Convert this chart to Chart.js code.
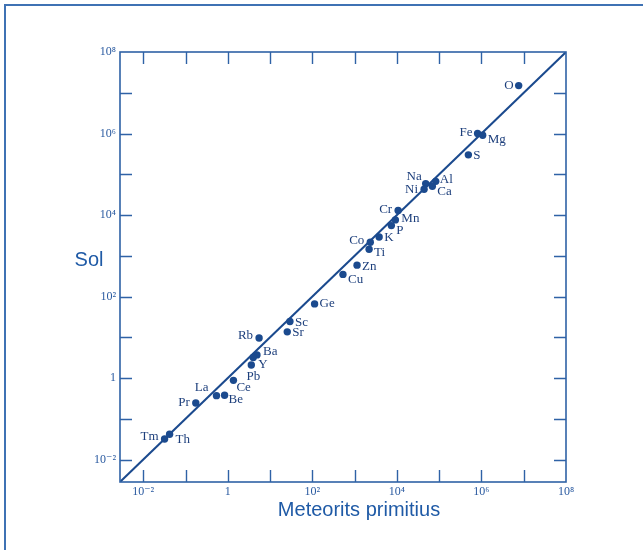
<!DOCTYPE html>
<html>
<head>
<meta charset="utf-8">
<script src="https://cdn.jsdelivr.net/npm/chart.js@4.4.1/dist/chart.umd.min.js"></script>
<style>
  html, body { margin: 0; padding: 0; background: #ffffff; overflow: hidden; }
  #wrap { position: relative; width: 643px; height: 550px; }
  #frame { position: absolute; left: 4px; top: 4px; width: 700px; height: 600px;
           border-left: 2px solid #3f72b4; border-top: 2px solid #3f72b4; box-sizing: border-box; }
  canvas { position: absolute; left: 0; top: 0; }
</style>
</head>
<body>
<div id="wrap">
  <div id="frame"></div>
  <canvas id="c" width="643" height="550"></canvas>
</div>
<script>
// ---- data ----
const elements  = ['O','Fe','Mg','S','Na','Al','Ni','Ca','Cr','Mn','P','K','Co','Ti','Zn','Cu','Ge','Sc','Sr','Rb','Ba','Y','Pb','Ce','Be','La','Pr','Th','Tm'];
const meteorites = [7.6e6, 8.1e5, 1.07e6, 4.9e5, 4.8e4, 8.3e4, 4.4e4, 6.9e4, 1.07e4, 9.2e3, 7.4e3, 3.8e3, 2.35e3, 2.2e3, 1.14e3, 5.3e2, 113, 29.5, 25.5, 5.5, 4.9, 4.0, 3.6, 1.36, 0.84, 0.54, 0.175, 0.042, 0.032];
const sun        = [1.5e7, 1.0e6, 9.1e5, 3.0e5, 5.9e4, 6.7e4, 4.3e4, 5.1e4, 1.29e4, 7.6e3, 5.5e3, 2.9e3, 2.15e3, 1.45e3, 5.9e2, 3.5e2, 66, 24.5, 13.6, 9.6, 3.7, 3.2, 2.1, 0.88, 0.38, 0.37, 0.245, 0.042, 0.032];
const equalityLine = [0.00282, 1e8];           // y = x reference line (ends)
const axisMin = 0.00282, axisMax = 1e8;
const tickValues = [0.01, 1, 100, 1e4, 1e6, 1e8];
const tickLabels = ['10\u207B\u00B2', '1', '10\u00B2', '10\u2074', '10\u2076', '10\u2078'];
const minorTicks = [0.01, 0.1, 1, 10, 100, 1e3, 1e4, 1e5, 1e6, 1e7];
const xTitle = 'Meteorits primitius';
const yTitle = 'Sol';

// label placement: [dx, dy, align]
const labelPlace = [
  [-5,0,'right'],[-5,-1,'right'],[5,4,'left'],[5,1,'left'],[-4,-7,'right'],[4,-2,'left'],[-6,0,'right'],[5,5,'left'],
  [-6,-1,'right'],[6,-1,'left'],[5,5,'left'],[5,1,'left'],[-6,-2,'right'],[5,3,'left'],[5,1,'left'],[5,5,'left'],
  [5,0,'left'],[5,1,'left'],[5,1,'left'],[-6,-2,'right'],[6,-3,'left'],[5,7,'left'],[2,12,'center'],[3,7,'left'],
  [4,4,'left'],[-8,-8,'right'],[-6,0,'right'],[6,5,'left'],[-6,-2,'right']
];

const AXIS_COLOR = '#2f62a6';
const MARK_COLOR = '#1b4a8e';
const TEXT_COLOR = '#1d3f7c';
const TICK_TEXT = '#2a5aa0';
const TITLE_COLOR = '#1f5aa6';

const decor = {
  id: 'decor',
  afterDatasetsDraw(chart) {
    const ctx = chart.ctx;
    const a = chart.chartArea;
    const xs = chart.scales.x, ys = chart.scales.y;
    ctx.save();
    // frame
    ctx.strokeStyle = AXIS_COLOR;
    ctx.lineWidth = 1.6;
    ctx.strokeRect(a.left, a.top, a.right - a.left, a.bottom - a.top);
    // inward ticks
    const L = 12;
    ctx.lineWidth = 1.4;
    ctx.beginPath();
    minorTicks.forEach(v => {
      const px = Math.round(xs.getPixelForValue(v)) + 0.5;
      if (px > a.left + 1 && px < a.right - 1) {
        ctx.moveTo(px, a.bottom); ctx.lineTo(px, a.bottom - L);
        ctx.moveTo(px, a.top); ctx.lineTo(px, a.top + L);
      }
      const py = Math.round(ys.getPixelForValue(v)) + 0.5;
      if (py > a.top + 1 && py < a.bottom - 1) {
        ctx.moveTo(a.left, py); ctx.lineTo(a.left + L, py);
        ctx.moveTo(a.right, py); ctx.lineTo(a.right - L, py);
      }
    });
    ctx.stroke();
    // element labels
    const meta = chart.getDatasetMeta(0);
    ctx.fillStyle = TEXT_COLOR;
    ctx.font = '13px "Liberation Serif", "DejaVu Serif", serif';
    ctx.textBaseline = 'middle';
    meta.data.forEach((pt, i) => {
      const p = labelPlace[i];
      ctx.textAlign = p[2];
      ctx.fillText(elements[i], pt.x + p[0], pt.y + p[1]);
    });
    // axis titles
    ctx.fillStyle = TITLE_COLOR;
    ctx.font = '20px "Liberation Sans", Arial, sans-serif';
    ctx.textAlign = 'center';
    ctx.fillText(xTitle, 359, 510);
    ctx.fillText(yTitle, 89, 260);
    ctx.restore();
  }
};

const tickFont = { family: '"Liberation Serif", "DejaVu Serif", serif', size: 12 };

new Chart(document.getElementById('c'), {
  data: {
    datasets: [
      {
        type: 'scatter',
        data: elements.map((e, i) => ({ x: meteorites[i], y: sun[i] })),
        backgroundColor: MARK_COLOR,
        borderWidth: 0,
        pointRadius: 3.7,
        pointHoverRadius: 3.7
      },
      {
        type: 'line',
        data: equalityLine.map(v => ({ x: v, y: v })),
        borderColor: MARK_COLOR,
        borderWidth: 2,
        pointRadius: 0,
        fill: false
      }
    ]
  },
  options: {
    responsive: false,
    devicePixelRatio: 1,
    animation: false,
    events: [],
    layout: { padding: { top: 52, right: 77, left: 0, bottom: 0 } },
    plugins: { legend: { display: false }, tooltip: { enabled: false } },
    scales: {
      x: {
        type: 'logarithmic', position: 'bottom', min: axisMin, max: axisMax,
        grid: { display: false, drawTicks: false },
        border: { display: false },
        afterBuildTicks: s => { s.ticks = tickValues.map(v => ({ value: v })); },
        afterFit: s => { s.height = 68; },
        ticks: { autoSkip: false, maxRotation: 0, padding: 3, color: TICK_TEXT, font: tickFont,
                 callback: (v, i) => tickLabels[i] }
      },
      y: {
        type: 'logarithmic', position: 'left', min: axisMin, max: axisMax,
        grid: { display: false, drawTicks: false },
        border: { display: false },
        afterBuildTicks: s => { s.ticks = tickValues.map(v => ({ value: v })); },
        afterFit: s => { s.width = 120; },
        ticks: { autoSkip: false, padding: 4, color: TICK_TEXT, font: tickFont,
                 callback: (v, i) => tickLabels[i] }
      }
    }
  },
  plugins: [decor]
});
</script>
</body>
</html>
